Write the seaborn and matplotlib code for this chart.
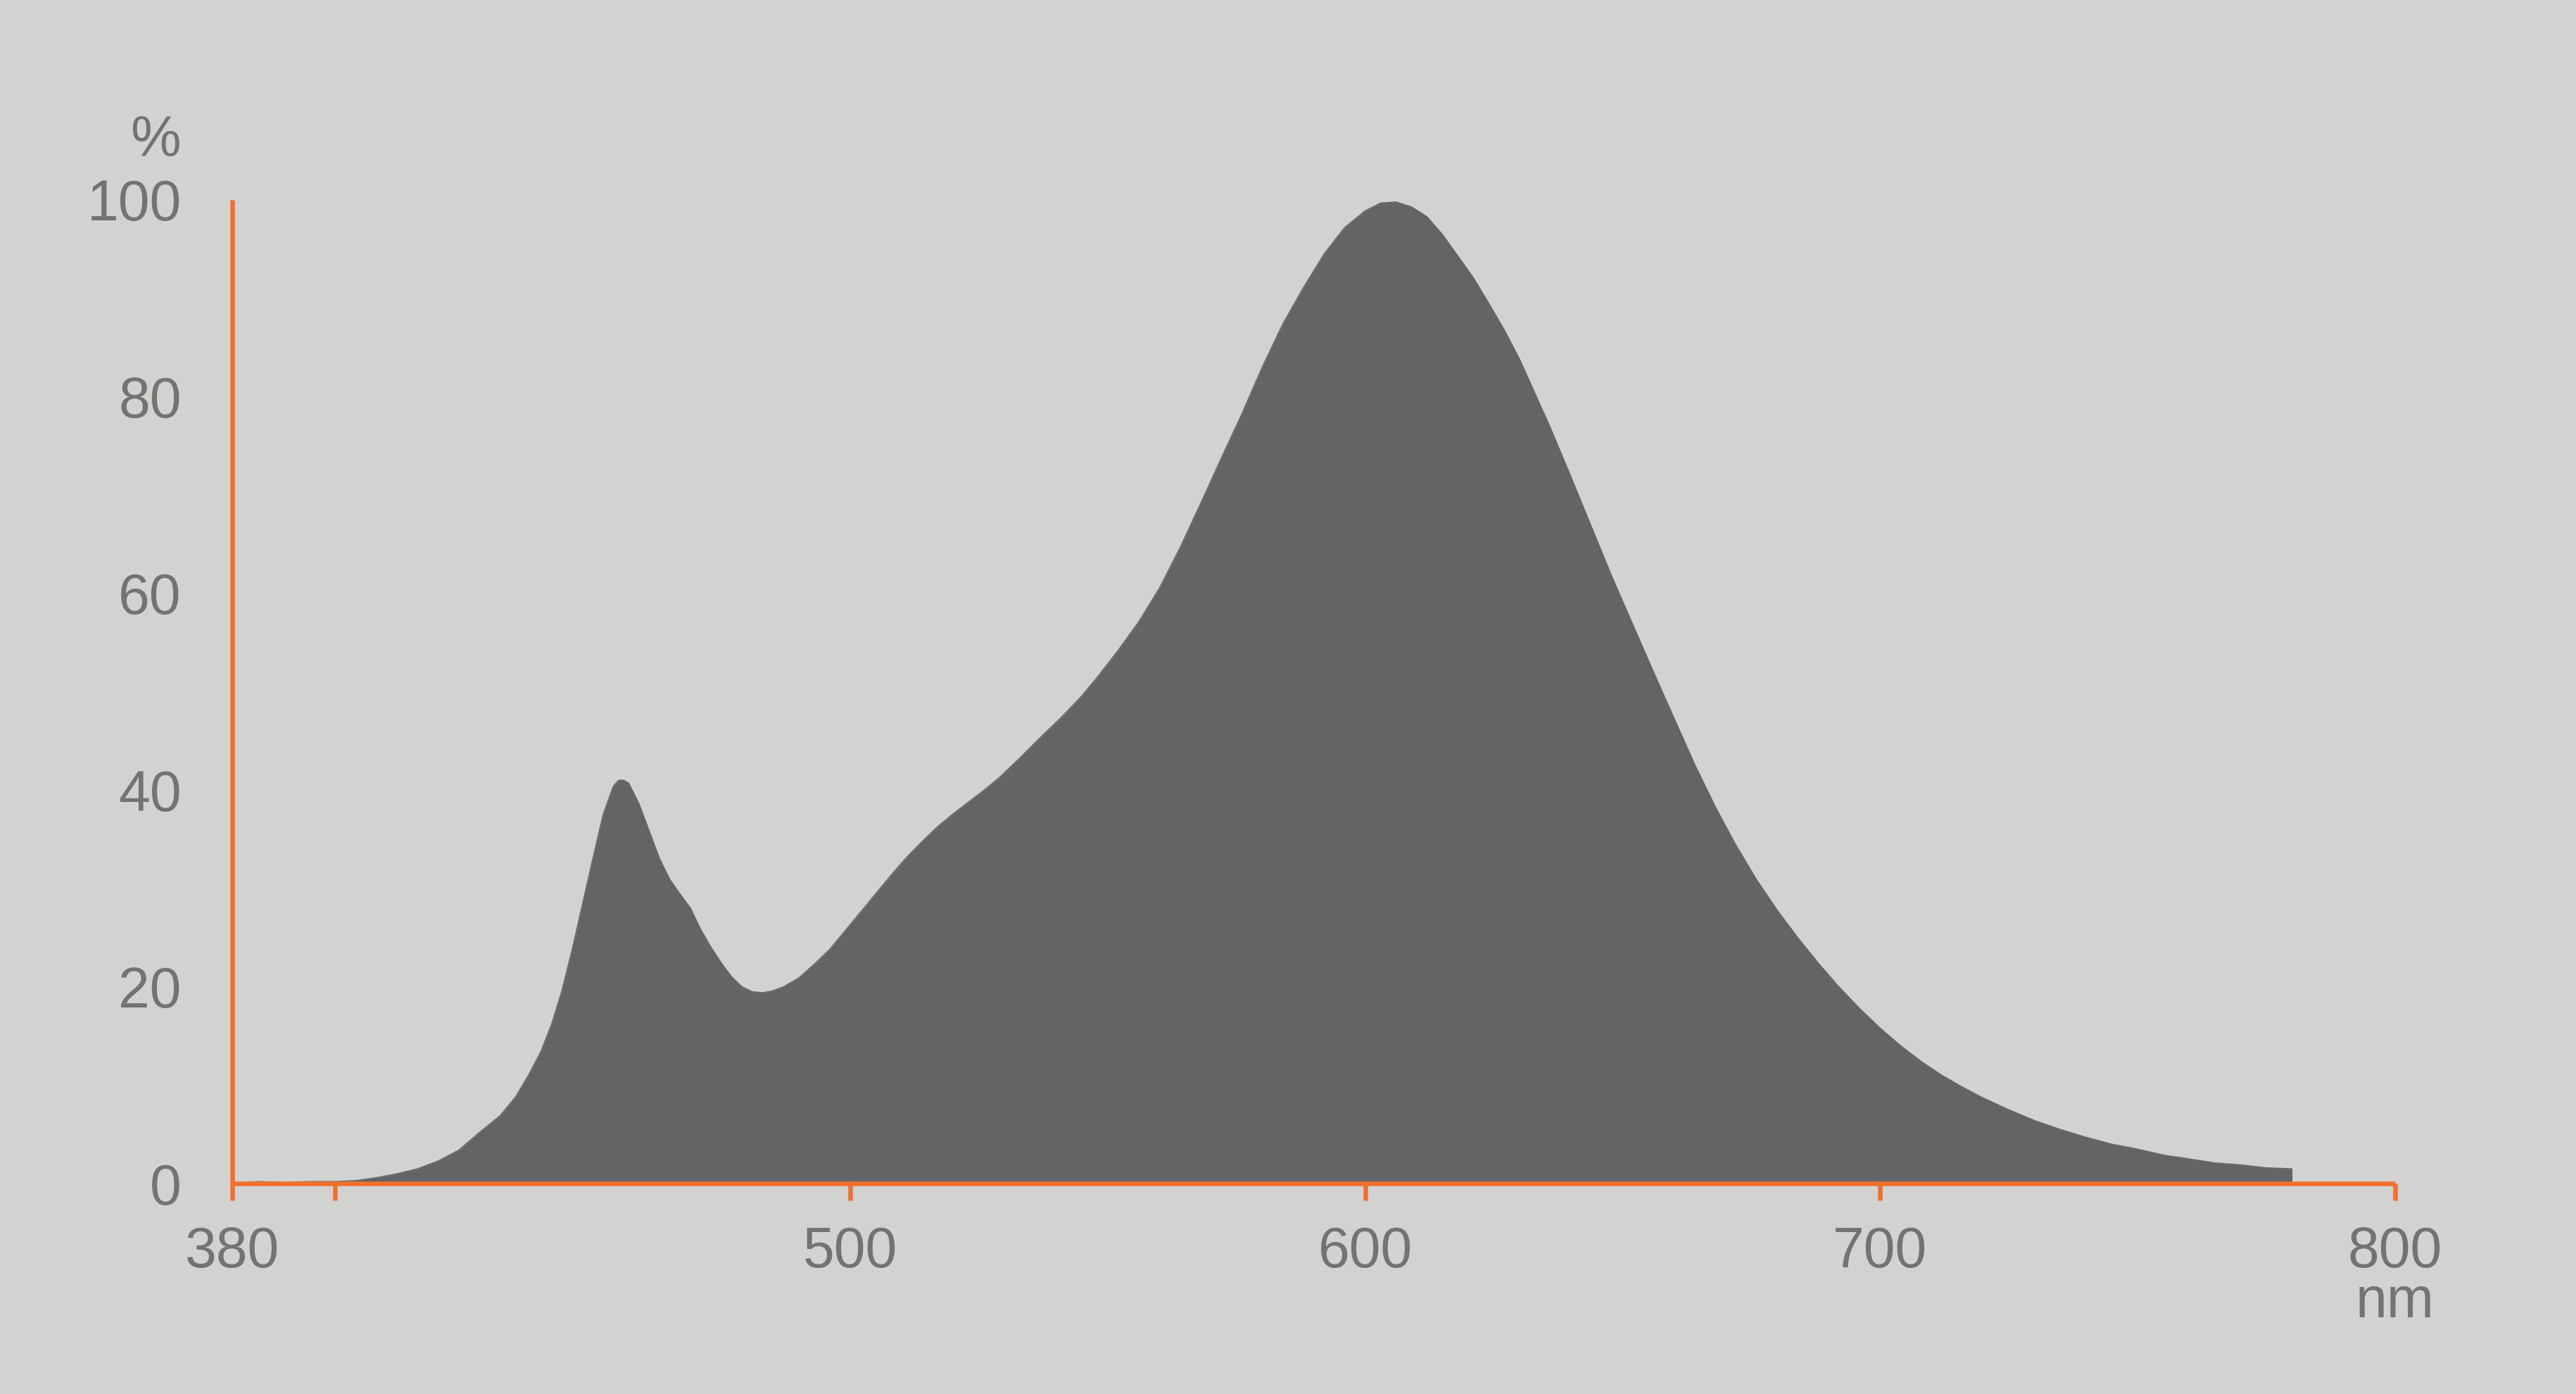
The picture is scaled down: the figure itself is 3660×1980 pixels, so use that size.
import numpy as np
import pandas as pd
import matplotlib
matplotlib.use("Agg")
import matplotlib.pyplot as plt
import seaborn as sns

# ================= DATA =================
wavelength = [381, 385, 390, 395, 400, 404, 408, 412, 416, 420, 424, 428, 432,
              435, 437.5, 440, 442, 444, 446, 448, 450, 452, 454, 455, 456, 457,
              459, 461, 463, 465, 467, 469, 471, 473, 475, 477, 479, 481, 483,
              485, 487, 490, 493, 496, 499, 502, 505, 508, 511, 514, 517, 520,
              523, 526, 529, 533, 537, 541, 545, 548, 552, 556, 560, 564, 568,
              572, 576, 580, 584, 588, 592, 596, 600, 603, 606, 609, 612, 615,
              618, 621, 624, 627, 630, 633, 636, 640, 644, 648, 652, 656, 660,
              664, 668, 672, 676, 680, 684, 688, 692, 696, 700, 704, 708, 712,
              716, 720, 725, 730, 735, 740, 745, 750, 755, 760, 765, 770, 775,
              780]
intensity = [0.0, 0.2, 0.1, 0.2, 0.2, 0.3, 0.6, 1.0, 1.5, 2.3, 3.4, 5.2, 6.9,
             8.8, 11.0, 13.5, 16.2, 19.6, 23.8, 28.4, 33.0, 37.5, 40.4, 41.0,
             41.0, 40.7, 38.6, 35.8, 33.0, 30.9, 29.4, 28.0, 25.8, 24.0, 22.4,
             21.0, 20.0, 19.5, 19.4, 19.6, 20.0, 20.9, 22.3, 23.8, 25.7, 27.6,
             29.5, 31.4, 33.2, 34.8, 36.3, 37.6, 38.8, 40.0, 41.3, 43.3, 45.4,
             47.4, 49.6, 51.5, 54.2, 57.1, 60.5, 64.6, 69.1, 73.7, 78.2, 83.0,
             87.4, 91.1, 94.5, 97.2, 98.9, 99.7, 99.8, 99.3, 98.3, 96.5, 94.3,
             92.1, 89.5, 86.8, 83.8, 80.3, 76.8, 71.8, 66.7, 61.6, 56.8, 52.0,
             47.3, 42.6, 38.3, 34.4, 30.9, 27.8, 25.0, 22.4, 20.0, 17.8, 15.8,
             14.0, 12.4, 11.0, 9.8, 8.7, 7.5, 6.4, 5.5, 4.7, 4.0, 3.5, 2.9, 2.5,
             2.1, 1.9, 1.6, 1.5]

x_ticks = [380, 400, 500, 600, 700, 800]
x_labels = ["380", "", "500", "600", "700", "800"]
y_ticks = [0, 20, 40, 60, 80, 100]
y_labels = ["0", "20", "40", "60", "80", "100"]

# ================= STYLE =================
BG = "#d2d2d0"
FILL = "#646466"
ORANGE = "#f07030"
TEXT = "#737373"

sns.set_style("ticks", {"axes.facecolor": BG, "figure.facecolor": BG})
plt.rcParams["font.family"] = ["Liberation Sans", "DejaVu Sans"]

df = pd.DataFrame({"nm": wavelength, "pct": intensity})

fig = plt.figure(figsize=(36.6, 19.8), dpi=100)
ax = fig.add_axes([330 / 3660, 299 / 1980, 3073 / 3660, 1397 / 1980])

ax.fill_between(df["nm"], df["pct"], 0, color=FILL, linewidth=0, zorder=1)
sns.lineplot(data=df, x="nm", y="pct", color=FILL, linewidth=1.0,
             estimator=None, ax=ax, zorder=1)

ax.set_xlim(380, 800)
ax.set_ylim(0, 100)
ax.set_xlabel("")
ax.set_ylabel("")

sns.despine(ax=ax)
for side in ["left", "bottom"]:
    ax.spines[side].set_color(ORANGE)
    ax.spines[side].set_linewidth(4.7)
    ax.spines[side].set_capstyle("butt")

ax.set_xticks(x_ticks)
ax.set_xticklabels(x_labels)
ax.set_yticks(y_ticks)
ax.set_yticklabels(y_labels)
ax.tick_params(axis="x", direction="out", length=17.5, width=4.7,
               color=ORANGE, labelcolor=TEXT, labelsize=58, pad=26)
ax.tick_params(axis="y", length=0, labelcolor=TEXT, labelsize=58, pad=52)

# unit labels
fig.text(257 / 3660, 1 - 222 / 1980, "%", ha="right", va="baseline",
         fontsize=58, color=TEXT)
fig.text(3403 / 3660, 1 - 1871 / 1980, "nm", ha="center", va="baseline",
         fontsize=58, color=TEXT)

fig.savefig("out.png", dpi=100, facecolor=BG)
